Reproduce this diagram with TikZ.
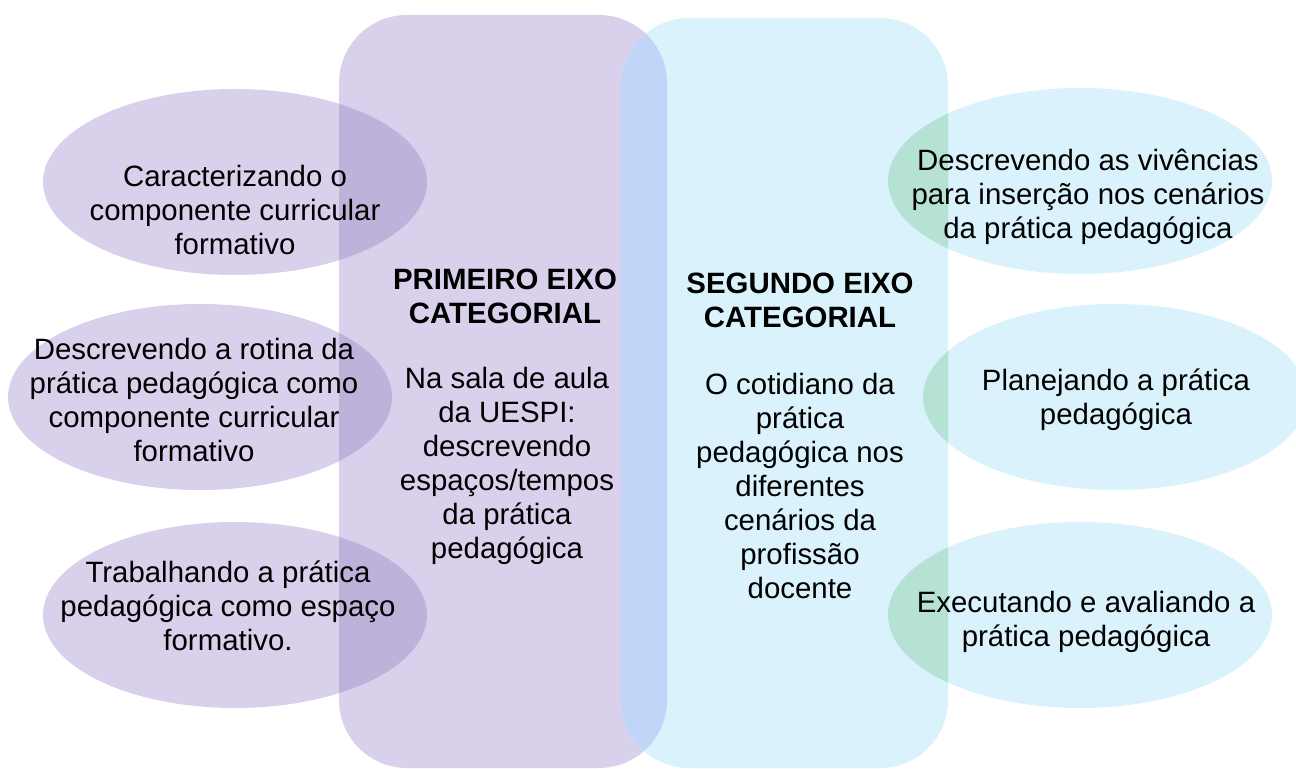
\documentclass[tikz,border=0pt]{standalone}
\usepackage{fontspec}
\setmainfont{Liberation Sans}
\definecolor{purp}{RGB}{217,209,236}
\definecolor{purpov}{RGB}{189,179,218}
\definecolor{cyanb}{RGB}{218,242,252}
\definecolor{rectov}{RGB}{193,213,248}
\definecolor{greenov}{RGB}{182,226,214}
\begin{document}
\begin{tikzpicture}[x=0.5pt,y=-0.5pt,
  rr/.style={rounded corners=34pt},
  txt/.style={align=center,inner sep=0pt,font=\fontsize{14.7}{17}\selectfont},
  ttl/.style={align=center,inner sep=0pt,font=\fontsize{14.7}{17}\selectfont\bfseries},
  ell/.style={x radius=96pt,y radius=46.5pt}]
\useasboundingbox (0,0) rectangle (1296,769);
% big rounded rectangles
\fill[purp,rr] (339,15) rectangle (667,768);
\fill[cyanb,rr] (621,18) rectangle (948,768);
% left ellipses
\fill[purp] (235,182) ellipse [ell];
\fill[purp] (200,397) ellipse [ell];
\fill[purp] (235,615) ellipse [ell];
% right ellipses
\fill[cyanb] (1080,181) ellipse [ell];
\fill[cyanb] (1115,397) ellipse [ell];
\fill[cyanb] (1080,615) ellipse [ell];
% overlap of the two rectangles
\begin{scope}
  \clip[rr] (339,15) rectangle (667,768);
  \fill[rectov,rr] (621,18) rectangle (948,768);
\end{scope}
% overlaps of left ellipses with purple rectangle
\begin{scope}
  \clip[rr] (339,15) rectangle (667,768);
  \fill[purpov] (235,182) ellipse [ell];
  \fill[purpov] (200,397) ellipse [ell];
  \fill[purpov] (235,615) ellipse [ell];
\end{scope}
% overlaps of right ellipses with cyan rectangle
\begin{scope}
  \clip[rr] (621,18) rectangle (948,768);
  \fill[greenov] (1080,181) ellipse [ell];
  \fill[greenov] (1115,397) ellipse [ell];
  \fill[greenov] (1080,615) ellipse [ell];
\end{scope}
% texts
\node[txt] (l1) at (235,210) {Caracterizando o\\componente curricular\\formativo};
\node[txt] (l2) at (194,400) {Descrevendo a rotina da\\prática pedagógica como\\componente curricular\\formativo};
\node[txt] (l3) at (228,606) {Trabalhando a prática\\pedagógica como espaço\\formativo.};
\node[ttl] (t1) at (505,296) {PRIMEIRO EIXO\\CATEGORIAL};
\node[txt] (b1) at (507,466) {Na sala de aula\\da UESPI:\\descrevendo\\espaços/tempos\\da prática\\pedagógica};
\node[ttl] (t2) at (800,300) {SEGUNDO EIXO\\CATEGORIAL};
\node[txt] (b2) at (800,486) {O cotidiano da\\prática\\pedagógica nos\\diferentes\\cenários da\\profissão\\docente};
\node[txt] (r1) at (1088,197) {Descrevendo as vivências\\para inserção nos cenários\\da prática pedagógica};
\node[txt] (r2) at (1116,400) {Planejando a prática\\pedagógica};
\node[txt] (r3) at (1086,622) {Executando e avaliando a\\prática pedagógica};
\end{tikzpicture}
\end{document}
